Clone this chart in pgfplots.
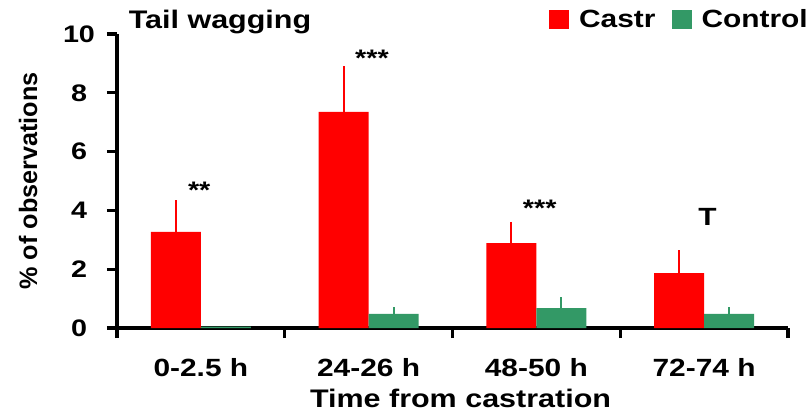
\documentclass[border=0pt]{standalone}
\usepackage{pgfplots}
\pgfplotsset{compat=1.18}
\usepackage{pgfplotstable}
\usepackage{fontspec}
\setmainfont{Liberation Sans}[FakeStretch=1.2]
\newfontfamily\plainsans{Liberation Sans}
\definecolor{castr}{RGB}{255,0,0}
\definecolor{ctrl}{RGB}{51,153,102}

\pgfplotstableread{
x y e
0 3.27 1.08
1 7.35 1.56
2 2.89 0.72
3 1.87 0.78
}\castrdata
\pgfplotstableread{
x y e
0 0.05 0
1 0.48 0.23
2 0.68 0.37
3 0.48 0.23
}\ctrldata

\begin{document}
\begin{tikzpicture}
\useasboundingbox (-117bp,-85bp) rectangle (694bp,328bp);
\begin{axis}[
  at={(0,0)}, anchor=south west,
  scale only axis, width=671bp, height=294bp,
  xmin=-0.5, xmax=3.5, ymin=0, ymax=10,
  axis x line*=bottom, axis y line*=left,
  axis line style={line width=3.5bp, black},
  ytick={0,2,...,10},
  xtick={-0.5,0.5,1.5,2.5,3.5},
  x tick label as interval,
  xticklabels={0-2.5 h,24-26 h,48-50 h,72-74 h},
  tick align=outside, major tick length=10bp,
  every tick/.append style={line width=3.2bp, black},
  /pgf/number format/assume math mode=true,
  yticklabel style={font=\fontsize{24}{28}\selectfont\bfseries, anchor=center, xshift=-28bp},
  xticklabel style={font=\fontsize{25}{29}\selectfont\bfseries, anchor=base, yshift=-38bp},
  xlabel={Time from castration},
  ylabel={\plainsans\bfseries\% of observations},
  xlabel style={font=\fontsize{25.5}{29}\selectfont\bfseries, at={(axis description cs:0.512,-0.272)}, anchor=base},
  ylabel style={font=\fontsize{25.3}{29}\selectfont, at={(axis description cs:-0.1326,0.5)}, anchor=center},
  ybar=0pt, bar width=50bp,
  clip=false,
  legend columns=2,
  legend style={at={(axis description cs:1.0327,1.049)}, anchor=east, draw=none, fill=none,
    font=\fontsize{25}{29}\selectfont\bfseries, inner sep=0pt,
    /tikz/every odd column/.append style={column sep=8bp},
    /tikz/every even column/.append style={column sep=14bp}},
  sqlegend/.style={legend image code/.code={\fill[##1] (0bp,-9.5bp) rectangle (20bp,9.5bp);}},
]
\addplot[fill=castr, draw=none, sqlegend,
  error bars/.cd, y dir=plus, y explicit, error mark=none,
  error bar style={draw=castr, line width=1.8bp}]
  table[x=x, y=y, y error=e] {\castrdata};
\addlegendentry{Castr}
\addplot[fill=ctrl, draw=none, sqlegend,
  error bars/.cd, y dir=plus, y explicit, error mark=none,
  error bar style={draw=ctrl, line width=1.8bp}]
  table[x=x, y=y, y error=e] {\ctrldata};
\addlegendentry{Control}

\node[anchor=base, font=\fontsize{25.5}{29}\selectfont\bfseries] at (axis description cs:0.1535,1.0204) {Tail wagging};
\node[anchor=base, font=\fontsize{24}{28}\selectfont\bfseries] at (axis cs:-0.01,4.39) {**};
\node[anchor=base, font=\fontsize{24}{28}\selectfont\bfseries] at (axis cs:1.02,8.88) {***};
\node[anchor=base, font=\fontsize{24}{28}\selectfont\bfseries] at (axis cs:2.02,3.78) {***};
\node[anchor=base, font=\fontsize{25}{29}\selectfont\bfseries] at (axis cs:3.02,3.47) {T};
\end{axis}
\end{tikzpicture}
\end{document}
